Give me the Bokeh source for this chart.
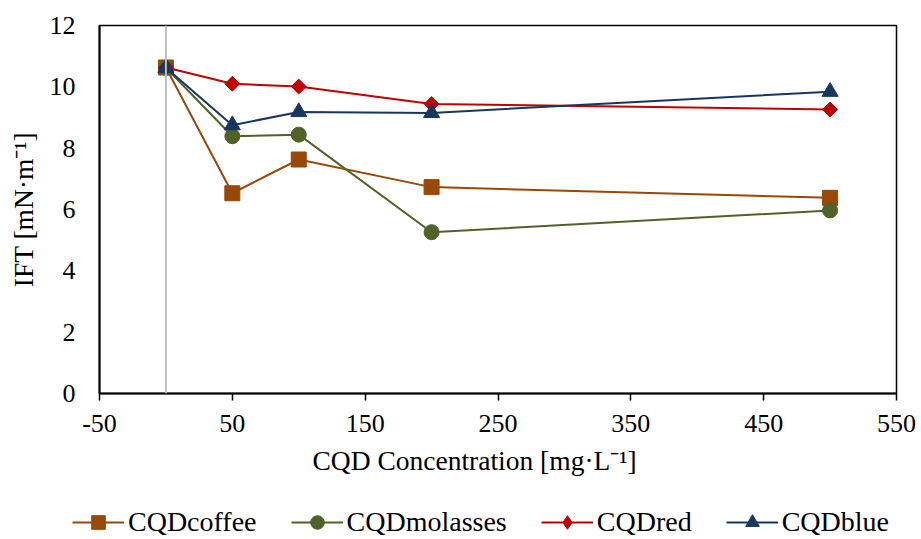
import math
from bokeh.plotting import figure
from bokeh.layouts import column
from bokeh.models import Span, Legend, LegendItem, FixedTicker, Range1d, Title
from bokeh.embed import file_html
from bokeh.resources import INLINE

# ---- data ----
conc = [0, 50, 100, 200, 500]
coffee = [10.63, 6.53, 7.63, 6.73, 6.38]
molasses = [10.62, 8.39, 8.44, 5.26, 5.97]
red = [10.63, 10.10, 10.01, 9.44, 9.26]
blue = [10.62, 8.75, 9.18, 9.15, 9.84]

series_names = ["CQDcoffee", "CQDmolasses", "CQDred", "CQDblue"]
x_ticks = [-50, 50, 150, 250, 350, 450, 550]
y_ticks = [0, 2, 4, 6, 8, 10, 12]

FONT = "Liberation Serif"

p = figure(width=921, height=490, output_backend="svg", toolbar_location=None,
           x_range=Range1d(-50, 550), y_range=Range1d(0, 12),
           min_border_left=99, min_border_right=25, min_border_top=25, min_border_bottom=97)

p.xgrid.visible = False
p.ygrid.visible = False
p.outline_line_color = "black"
p.outline_line_width = 1.5
p.background_fill_color = "white"
p.border_fill_color = "white"

# vertical axis crossing at x=0
p.add_layout(Span(location=0, dimension="height", line_color="#bfbfbf", line_width=2))

styles = [
    (coffee, "#984807", "square", 15, 0, "square"),
    (molasses, "#4F6228", "circle", 15, 0, "circle"),
    (red, "#C00000", "square", 10.5, math.pi / 4, "diamond"),
    (blue, "#17375E", "triangle", 16, 0, "triangle"),
]

# legend figure (below the chart); its ranges hide the series, only the legend shows
lg = figure(width=921, height=49, output_backend="svg", toolbar_location=None,
            x_range=Range1d(1000, 1001), y_range=Range1d(1000, 1001),
            x_axis_location=None, y_axis_location=None,
            min_border=0, min_border_left=0, min_border_right=0,
            min_border_top=0, min_border_bottom=0)
try:
    lg.frame_align = False
except Exception:
    pass
lg.grid.visible = False
lg.outline_line_color = None
lg.background_fill_color = "white"
lg.border_fill_color = "white"

items = []
for name, (vals, col, mk, sz, ang, lmk) in zip(series_names, styles):
    p.line(conc, vals, line_color=col, line_width=2)
    p.scatter(conc, vals, marker=mk, size=sz, angle=ang,
              fill_color=col, line_color=col)
    ln = lg.line(conc, vals, line_color=col, line_width=2)
    sc = lg.scatter(conc, vals, marker=lmk, size=sz,
                    fill_color=col, line_color=col)
    items.append(LegendItem(label=name, renderers=[ln, sc]))

# axes
xa = p.xaxis[0]
xa.ticker = FixedTicker(ticks=x_ticks)
xa.major_label_overrides = {t: str(t) for t in x_ticks}
ya = p.yaxis[0]
ya.ticker = FixedTicker(ticks=y_ticks)
ya.axis_label = "IFT [mN·m⁻¹]"

for ax in (xa, ya):
    ax.axis_line_color = "black"
    ax.axis_line_width = 2
    ax.major_label_text_font = FONT
    ax.major_label_text_font_size = "26px"
    ax.major_label_text_color = "black"
    ax.axis_label_text_font = FONT
    ax.axis_label_text_font_size = "27.5px"
    ax.axis_label_text_font_style = "normal"
    ax.axis_label_text_color = "black"
    ax.minor_tick_line_color = None
    ax.major_tick_in = 0

xa.major_tick_out = 7
xa.major_tick_line_color = "black"
xa.major_tick_line_width = 1.5
xa.major_label_standoff = 14

ya.major_tick_out = 0
ya.major_tick_line_color = None
ya.major_label_standoff = 24
ya.axis_label_standoff = 8

# x-axis title, placed a little left of the frame centre as in the reference
xtitle = Title(text="CQD Concentration [mg·L⁻¹]", align="left", offset=213,
               text_font=FONT, text_font_size="27.5px", text_font_style="normal",
               text_color="black", standoff=17)
p.add_layout(xtitle, "below")

legend = Legend(items=items, orientation="horizontal", location=(72, 0),
                label_text_font=FONT, label_text_font_size="28px", label_text_color="black",
                glyph_width=52, glyph_height=34, label_standoff=4, spacing=34,
                padding=0, margin=0, border_line_color=None, background_fill_alpha=0)
lg.add_layout(legend, "center")

open("out.html", "w").write(file_html(column(p, lg, spacing=0), INLINE))
